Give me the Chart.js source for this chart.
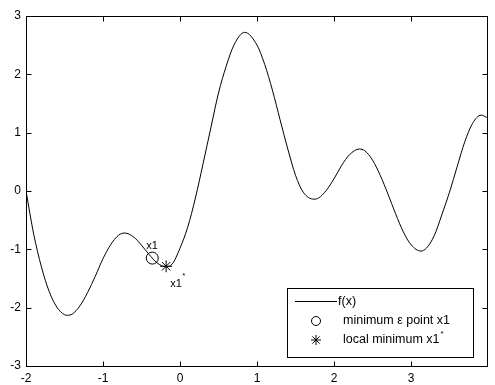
<!DOCTYPE html>
<html>
<head>
<meta charset="utf-8">
<script src="https://cdn.jsdelivr.net/npm/chart.js@4.4.1/dist/chart.umd.min.js"></script>
<style>
html, body { margin: 0; padding: 0; background: #fff; }
#wrap { width: 495px; height: 385px; }
</style>
</head>
<body>
<div id="wrap"><canvas id="plot"></canvas></div>
<script>
// curve f(x)
const xValues = [-2.0, -1.9, -1.8, -1.7, -1.6, -1.5, -1.46, -1.4, -1.3, -1.2, -1.1, -1.0, -0.9, -0.8, -0.72,
  -0.6, -0.5, -0.4, -0.3, -0.18, -0.1, 0.0, 0.1, 0.2, 0.3, 0.4, 0.5, 0.6, 0.7, 0.84,
  1.0, 1.1, 1.2, 1.3, 1.4, 1.5, 1.6, 1.74, 1.8, 1.9, 2.0, 2.1, 2.2, 2.33, 2.4,
  2.5, 2.6, 2.7, 2.8, 2.9, 3.0, 3.13, 3.2, 3.3, 3.4, 3.5, 3.6, 3.7, 3.8, 3.91, 4.0];
const fValues = [0.00, -0.74, -1.30, -1.72, -1.99, -2.12, -2.13, -2.11, -1.97, -1.74, -1.46, -1.16, -0.92, -0.76, -0.72,
  -0.79, -0.93, -1.09, -1.23, -1.30, -1.25, -0.98, -0.62, -0.12, 0.47, 1.08, 1.68, 2.14, 2.50, 2.72,
  2.50, 2.17, 1.73, 1.22, 0.72, 0.27, -0.02, -0.14, -0.12, 0.01, 0.21, 0.44, 0.62, 0.72, 0.69,
  0.53, 0.27, -0.05, -0.39, -0.70, -0.92, -1.03, -0.98, -0.77, -0.41, -0.02, 0.42, 0.85, 1.16, 1.30, 1.25];

// markers
const epsPointX = [-0.36];
const epsPointY = [-1.15];
const localMinX = [-0.18];
const localMinY = [-1.29];

// ticks
const xTicks = [-2, -1, 0, 1, 2, 3];
const yTicks = [-3, -2, -1, 0, 1, 2, 3];

const legendLabels = ['f(x)', 'minimum \u03b5 point x1', 'local minimum x1'];

const FONT = '"Liberation Sans", Arial, sans-serif';
Chart.defaults.font.family = FONT;
Chart.defaults.color = '#000';

function drawStar(ctx, x, y, r) {
  ctx.beginPath();
  ctx.moveTo(x - r, y); ctx.lineTo(x + r, y);
  ctx.moveTo(x, y - r); ctx.lineTo(x, y + r);
  const d = r * 0.72;
  ctx.moveTo(x - d, y - d); ctx.lineTo(x + d, y + d);
  ctx.moveTo(x - d, y + d); ctx.lineTo(x + d, y - d);
  ctx.stroke();
}

// box round the axes, with the ticks pointing inward like matlab
const axesBox = {
  id: 'axesBox',
  afterDatasetsDraw(chart) {
    const ctx = chart.ctx;
    const a = chart.chartArea;
    const xs = chart.scales.x, ys = chart.scales.y;
    const l = Math.round(a.left) + 0.5, r = Math.round(a.right) - 0.5;
    const t = Math.round(a.top) + 0.5, b = Math.round(a.bottom) + 0.5;
    ctx.save();
    ctx.strokeStyle = '#000';
    ctx.lineWidth = 1;
    ctx.strokeRect(l, t, r - l, b - t);
    ctx.beginPath();
    xTicks.forEach(v => {
      const px = Math.round(xs.getPixelForValue(v)) + 0.5;
      ctx.moveTo(px, b); ctx.lineTo(px, b - 5);
      ctx.moveTo(px, t); ctx.lineTo(px, t + 5);
    });
    yTicks.forEach(v => {
      const py = Math.round(ys.getPixelForValue(v)) + 0.5;
      ctx.moveTo(l, py); ctx.lineTo(l + 5, py);
      ctx.moveTo(r, py); ctx.lineTo(r - 5, py);
    });
    ctx.stroke();

    // point labels
    ctx.fillStyle = '#000';
    ctx.font = '11px ' + FONT;
    ctx.textBaseline = 'alphabetic';
    const cx = xs.getPixelForValue(epsPointX[0]), cy = ys.getPixelForValue(epsPointY[0]);
    ctx.fillText('x1', cx - 6, cy - 9);
    const sx = xs.getPixelForValue(localMinX[0]), sy = ys.getPixelForValue(localMinY[0]);
    ctx.fillText('x1', sx + 4, sy + 21);
    ctx.font = '8px ' + FONT;
    ctx.fillText('*', sx + 16, sy + 12);
    ctx.restore();
  }
};

const legendBox = {
  id: 'legendBox',
  afterDraw(chart) {
    const ctx = chart.ctx;
    const L = 287, T = 288, R = 473, B = 357;
    ctx.save();
    ctx.fillStyle = '#fff';
    ctx.fillRect(L, T, R - L, B - T);
    ctx.strokeStyle = '#000';
    ctx.lineWidth = 1;
    ctx.strokeRect(L + 0.5, T + 0.5, R - L, B - T);

    ctx.beginPath();
    ctx.moveTo(295, 301.5); ctx.lineTo(337, 301.5);
    ctx.stroke();
    ctx.beginPath();
    ctx.arc(316, 321, 4.5, 0, Math.PI * 2);
    ctx.stroke();
    drawStar(ctx, 316, 340, 5);

    ctx.fillStyle = '#000';
    ctx.font = '12.5px ' + FONT;
    ctx.textBaseline = 'middle';
    ctx.fillText(legendLabels[0], 338, 302);
    ctx.fillText(legendLabels[1], 343, 321);
    ctx.fillText(legendLabels[2], 343, 340);
    const w = ctx.measureText(legendLabels[2]).width;
    ctx.font = '8px ' + FONT;
    ctx.fillText('*', 343 + w + 1, 334);
    ctx.restore();
  }
};

const ctx = document.getElementById('plot');
const chart = new Chart(ctx, {
  type: 'scatter',
  data: {
    datasets: [{
      label: 'f(x)',
      data: xValues.map((x, i) => ({ x: x, y: fValues[i] })),
      showLine: true,
      borderColor: '#000',
      borderWidth: 1,
      pointRadius: 0,
      cubicInterpolationMode: 'monotone'
    }, {
      label: 'minimum point',
      data: epsPointX.map((x, i) => ({ x: x, y: epsPointY[i] })),
      pointStyle: 'circle',
      pointRadius: 6,
      borderColor: '#000',
      backgroundColor: 'rgba(0,0,0,0)',
      borderWidth: 1
    }, {
      label: 'local minimum',
      data: localMinX.map((x, i) => ({ x: x, y: localMinY[i] })),
      pointStyle: 'star',
      pointRadius: 6,
      borderColor: '#000',
      borderWidth: 1
    }]
  },
  options: {
    responsive: true,
    maintainAspectRatio: false,
    animation: false,
    events: [],
    layout: { padding: { top: 16, right: 1, left: 0, bottom: 0 } },
    plugins: {
      legend: { display: false },
      tooltip: { enabled: false }
    },
    scales: {
      x: {
        type: 'linear',
        min: -2,
        max: 4,
        grid: { display: false, drawTicks: false },
        border: { display: false },
        ticks: { font: { size: 12 }, color: '#000', padding: 5, maxRotation: 0, autoSkip: false },
        afterBuildTicks: s => { s.ticks = xTicks.map(v => ({ value: v })); },
        afterFit: s => { s.height = 19; }
      },
      y: {
        min: -3,
        max: 3,
        grid: { display: false, drawTicks: false },
        border: { display: false },
        ticks: { font: { size: 12 }, color: '#000', padding: 5, autoSkip: false },
        afterBuildTicks: s => { s.ticks = yTicks.map(v => ({ value: v })); },
        afterFit: s => { s.width = 26; }
      }
    }
  },
  plugins: [axesBox, legendBox]
});
</script>
</body>
</html>
